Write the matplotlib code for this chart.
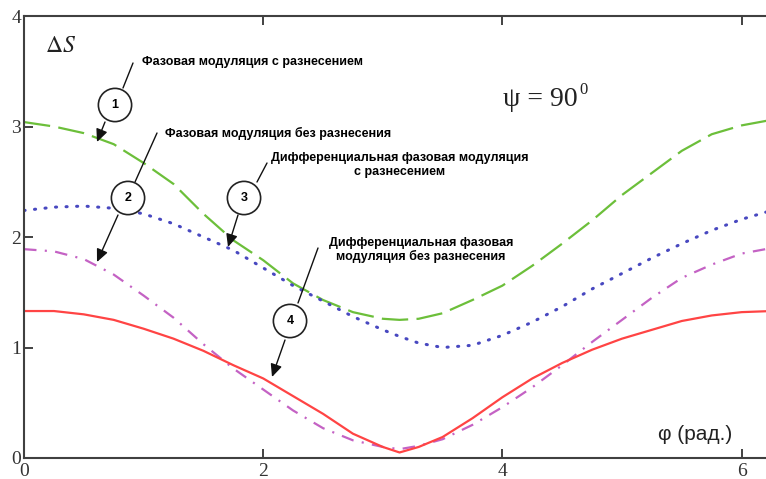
import matplotlib
matplotlib.use("Agg")
import matplotlib.pyplot as plt

plt.rcParams["font.family"] = ["Liberation Serif", "DejaVu Serif"]
plt.rcParams["mathtext.fontset"] = "stix"
plt.rcParams["lines.scale_dashes"] = False

# phase, rad
phi = [0, 0.25, 0.5, 0.75, 1.0, 1.25, 1.5, 1.75, 2.0, 2.25, 2.5, 2.75, 3.0, 3.14,
       3.3, 3.5, 3.75, 4.0, 4.25, 4.5, 4.75, 5.0, 5.25, 5.5, 5.75, 6.0, 6.25]

# 1 - phase modulation with spacing
pm_spaced = [3.04, 3.00, 2.94, 2.84, 2.67, 2.48, 2.21, 1.97, 1.79, 1.58, 1.43, 1.32, 1.26, 1.25,
             1.26, 1.31, 1.43, 1.56, 1.74, 1.94, 2.15, 2.38, 2.58, 2.78, 2.93, 3.01, 3.06]
# 2 - phase modulation without spacing
pm_plain = [1.89, 1.87, 1.80, 1.66, 1.47, 1.27, 1.03, 0.81, 0.62, 0.43, 0.27, 0.16, 0.10, 0.08,
            0.11, 0.17, 0.30, 0.46, 0.64, 0.84, 1.05, 1.25, 1.45, 1.63, 1.75, 1.85, 1.90]
# 3 - differential PM with spacing
dpm_spaced = [2.24, 2.27, 2.28, 2.26, 2.21, 2.12, 2.00, 1.88, 1.72, 1.56, 1.42, 1.28, 1.16, 1.10,
              1.04, 1.00, 1.02, 1.11, 1.23, 1.37, 1.53, 1.67, 1.81, 1.94, 2.06, 2.16, 2.24]
# 4 - differential PM without spacing
dpm_plain = [1.33, 1.33, 1.30, 1.25, 1.17, 1.08, 0.97, 0.84, 0.72, 0.56, 0.40, 0.22, 0.10, 0.05,
             0.10, 0.19, 0.36, 0.55, 0.72, 0.86, 0.98, 1.08, 1.16, 1.24, 1.29, 1.32, 1.33]

W, H = 766, 479
fig = plt.figure(figsize=(W / 100, H / 100), dpi=100)
ax = fig.add_axes([24 / W, 21 / H, 751.5 / W, 442 / H])

ax.plot(phi, pm_spaced, color="#6cbf3a", lw=1.6, dashes=(19, 6))
ax.plot(phi, dpm_spaced, color="#4848c0", lw=2.2, dashes=(0.8, 6.8), dash_capstyle="round")
ax.plot(phi, pm_plain, color="#c462c4", lw=1.6, dashes=(9, 6, 1.5, 6))
ax.plot(phi, dpm_plain, color="#ff4444", lw=1.6)

ax.set_xlim(0, 6.2832)
ax.set_ylim(0, 4)
ax.set_xticks([0, 2, 4, 6])
ax.set_yticks([0, 1, 2, 3, 4])
ax.tick_params(direction="in", length=6.5, width=1.3, color="#333333",
               top=True, right=True, labelsize=14, labelcolor="#333333")
ax.tick_params(axis="y", pad=2)
ax.tick_params(axis="x", pad=3.5)
for s in ax.spines.values():
    s.set_color("#404040")
    s.set_linewidth(1.5)


def fpix(px, py):
    return (px, H - py)


def label(px, py, txt, ha="left"):
    fig.text(px / W, 1 - py / H, txt, ha=ha, va="center", fontsize=9,
             weight="bold", family="Liberation Sans", multialignment="center",
             linespacing=1.15)


def circle(px, py, num):
    fig.text(px / W, 1 - py / H, num, ha="center", va="center", fontsize=9,
             weight="bold", family="Liberation Sans", zorder=5,
             bbox=dict(boxstyle="circle,pad=0.85", fc="white", ec="#222222", lw=1.2))


def line(p0, p1, arrow=False):
    style = "-|>,head_length=0.55,head_width=0.25" if arrow else "-"
    ax.annotate("", xy=fpix(*p1), xytext=fpix(*p0), xycoords="figure pixels",
                textcoords="figure pixels", zorder=4,
                arrowprops=dict(arrowstyle=style, color="#111111", lw=1.0,
                                shrinkA=0, shrinkB=0, mutation_scale=14))


label(142, 62, "Фазовая модуляция с разнесением")
label(165, 133, "Фазовая модуляция без разнесения")
label(400, 165, "Дифференциальная фазовая модуляция\nс разнесением", ha="center")
label(421, 250, "Дифференциальная фазовая\nмодуляция без разнесения", ha="center")

line((133, 63), (123, 88))
line((105, 122), (97, 142), arrow=True)
line((157, 133), (135, 182))
line((118, 215), (97, 262), arrow=True)
line((267, 163), (257, 182))
line((238, 215), (228, 247), arrow=True)
line((318, 248), (298, 303))
line((285, 340), (272, 377), arrow=True)

circle(115, 105, "1")
circle(128, 198, "2")
circle(244, 198, "3")
circle(290, 321, "4")

fig.text(45 / W, 1 - 47 / H, r"$\Delta S$", fontsize=17, ha="left", va="center", color="#222222")
fig.text(503 / W, 1 - 100 / H, "ψ = 90", fontsize=20, ha="left", va="center", color="#222222")
fig.text(579 / W, 1 - 90 / H, "0", fontsize=12, ha="left", va="center", color="#222222")
fig.text(658 / W, 1 - 435 / H, "φ (рад.)", fontsize=15, ha="left", va="center",
         family="Liberation Sans", color="#222222")

fig.savefig("out.png", dpi=100)
